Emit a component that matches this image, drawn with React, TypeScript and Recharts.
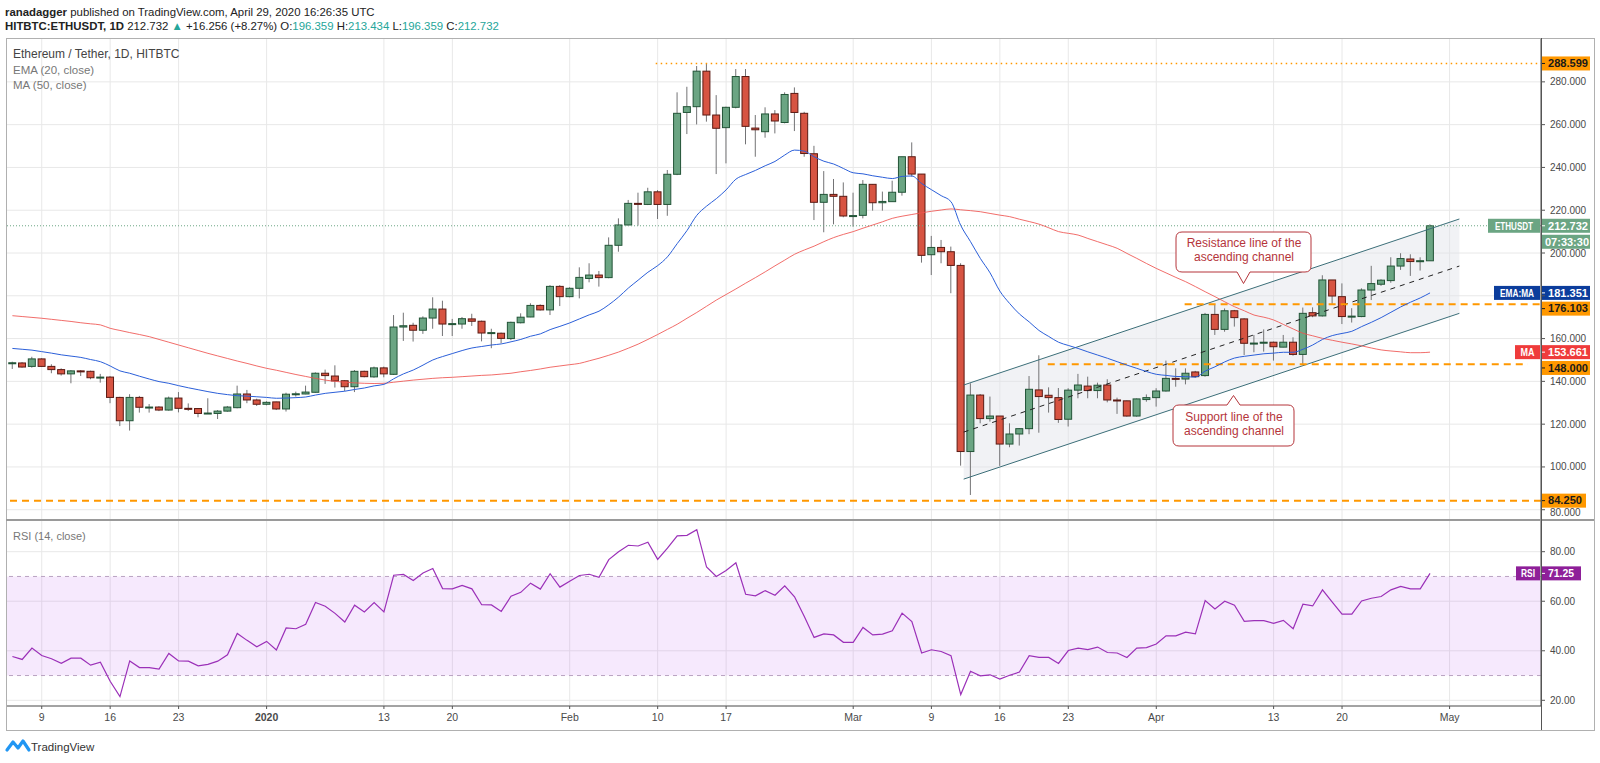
import React from 'react'
import { ComposedChart, Bar, Line, Area, XAxis, YAxis, CartesianGrid, ReferenceLine, ReferenceArea } from 'recharts'

// daily candles, 2019-12-06 .. 2020-04-29 (index 0 = Dec 6)
const open = [
  148.3, 148.6, 147.0, 150.5, 147.0, 145.5, 143.5, 144.9, 144.7, 141.7,
  142.0, 132.5, 121.6, 132.5, 127.9, 128.0, 126.6, 132.2, 127.4, 127.3,
  125.0, 125.0, 126.1, 127.7, 134.1, 131.3, 129.3, 130.4, 127.1, 134.0,
  134.1, 134.9, 143.8, 142.5, 140.3, 137.5, 144.7, 142.1, 146.3, 143.3,
  165.4, 166.2, 163.9, 169.6, 173.8, 166.8, 166.8, 169.2, 168.1, 162.6,
  162.5, 160.0, 167.4, 170.1, 175.5, 173.4, 184.4, 179.6, 183.5, 188.1,
  189.7, 188.5, 203.6, 213.1, 223.2, 222.7, 228.6, 222.7, 236.8, 265.7,
  268.4, 285.0, 264.5, 258.6, 268.1, 282.5, 258.4, 256.7, 265.0, 261.0,
  274.6, 265.3, 246.4, 223.7, 227.4, 226.5, 217.3, 217.6, 232.1, 223.5,
  224.0, 228.4, 245.0, 236.9, 199.2, 202.6, 200.6, 194.2, 107.2, 133.6,
  122.6, 123.8, 110.7, 115.4, 117.9, 136.0, 133.5, 132.4, 122.3, 135.9,
  137.8, 135.7, 138.3, 131.3, 130.9, 123.8, 131.5, 132.4, 135.5, 141.4,
  141.1, 144.4, 142.7, 171.3, 164.3, 173.0, 169.2, 157.8, 158.0, 158.3,
  156.0, 158.3, 152.6, 172.1, 170.6, 187.4, 179.6, 170.4, 170.3, 182.7,
  185.4, 187.1, 193.9, 197.2, 196.2, 196.359,
]
const high = [
  149.2, 149.0, 151.5, 150.8, 148.0, 146.1, 145.3, 145.3, 145.0, 143.5,
  142.5, 132.8, 134.0, 133.2, 129.4, 128.4, 132.9, 135.0, 129.7, 127.4,
  132.1, 126.6, 128.5, 138.0, 136.0, 131.9, 130.7, 130.5, 134.7, 135.2,
  138.0, 144.2, 145.5, 147.5, 140.6, 145.3, 145.0, 146.9, 146.9, 171.0,
  172.1, 167.4, 170.4, 179.3, 177.7, 169.2, 170.1, 171.6, 168.4, 164.6,
  162.8, 167.9, 171.8, 176.5, 176.0, 185.0, 185.0, 184.0, 193.3, 195.2,
  191.6, 207.3, 216.2, 224.8, 228.2, 230.5, 229.4, 238.8, 275.1, 277.7,
  287.4, 288.6, 273.8, 268.4, 286.0, 286.0, 264.5, 268.1, 266.8, 275.1,
  277.4, 266.0, 250.1, 238.3, 234.6, 233.0, 228.2, 234.1, 232.1, 228.7,
  233.8, 245.0, 251.7, 236.9, 208.0, 206.1, 203.0, 195.2, 139.1, 134.1,
  132.9, 123.8, 120.4, 118.2, 142.5, 152.2, 137.2, 136.9, 136.8, 143.5,
  142.2, 139.4, 141.0, 132.4, 131.0, 132.0, 133.9, 136.8, 149.7, 146.1,
  146.1, 144.9, 172.0, 175.7, 174.1, 173.4, 169.5, 161.7, 164.3, 158.6,
  161.7, 160.6, 174.5, 174.6, 189.6, 187.4, 185.8, 174.2, 183.5, 194.0,
  187.7, 198.0, 199.9, 199.4, 198.0, 213.434,
]
const low = [
  145.8, 146.4, 146.4, 146.9, 143.8, 142.7, 139.1, 142.5, 141.0, 139.4,
  129.8, 119.1, 117.0, 125.4, 125.4, 126.1, 126.3, 125.5, 126.2, 123.2,
  124.8, 122.4, 125.8, 127.4, 129.8, 128.5, 128.8, 126.6, 125.9, 132.9,
  134.0, 134.7, 138.8, 137.1, 135.5, 135.0, 141.9, 141.7, 141.9, 143.0,
  158.9, 158.6, 162.2, 164.6, 161.2, 161.2, 164.6, 165.9, 158.7, 155.5,
  157.8, 159.3, 167.1, 170.0, 173.1, 171.0, 175.2, 179.3, 178.8, 186.3,
  184.3, 188.2, 200.6, 212.8, 212.8, 222.4, 215.9, 217.4, 236.4, 255.6,
  260.1, 261.4, 236.9, 241.9, 267.6, 250.8, 245.0, 253.9, 255.9, 260.6,
  257.0, 245.0, 215.4, 209.7, 213.4, 216.7, 212.3, 216.2, 219.8, 219.8,
  224.0, 226.8, 235.7, 195.5, 189.7, 195.2, 181.2, 100.6, 86.9, 120.4,
  121.2, 100.5, 109.2, 110.0, 115.3, 116.0, 125.4, 120.6, 118.9, 132.1,
  132.1, 132.1, 130.2, 124.8, 123.5, 123.5, 130.5, 128.2, 135.2, 137.5,
  138.6, 141.7, 142.2, 161.7, 163.2, 165.6, 152.3, 153.6, 153.9, 149.7,
  155.9, 152.0, 148.1, 170.0, 170.3, 176.2, 166.8, 167.5, 170.0, 178.0,
  184.6, 186.1, 192.1, 189.3, 191.8, 196.359,
]
const close = [
  148.7, 146.7, 150.5, 147.0, 145.5, 143.5, 144.9, 144.7, 141.7, 142.0,
  132.5, 121.6, 132.5, 127.9, 128.0, 126.6, 132.2, 127.4, 127.3, 125.0,
  125.2, 126.1, 128.0, 134.1, 131.3, 129.3, 130.2, 127.1, 134.0, 134.2,
  135.0, 143.8, 142.7, 140.2, 137.5, 144.7, 142.2, 146.3, 143.5, 165.4,
  166.0, 163.9, 169.6, 173.8, 166.8, 167.0, 169.3, 168.1, 162.6, 162.8,
  160.1, 167.6, 170.0, 175.5, 173.4, 184.4, 179.6, 183.5, 188.6, 189.7,
  188.5, 203.6, 213.1, 223.2, 222.8, 228.6, 222.7, 236.8, 265.3, 268.4,
  285.0, 264.5, 258.3, 268.1, 282.5, 259.2, 257.6, 265.0, 261.7, 274.1,
  265.7, 246.5, 223.7, 227.4, 226.5, 217.3, 217.5, 232.1, 223.5, 224.1,
  228.4, 245.0, 236.9, 198.9, 202.6, 200.6, 194.2, 107.2, 133.6, 122.6,
  123.8, 110.7, 115.4, 117.9, 136.3, 132.9, 132.4, 122.2, 135.9, 138.3,
  135.7, 138.2, 131.3, 130.9, 123.8, 131.8, 132.4, 135.5, 141.4, 141.1,
  143.8, 142.2, 171.3, 164.3, 173.0, 169.8, 157.8, 157.9, 158.3, 156.2,
  158.3, 152.6, 171.8, 170.6, 187.4, 179.9, 170.3, 170.5, 182.7, 185.7,
  187.3, 193.9, 197.4, 196.0, 196.4, 212.732,
]
const ema20 = [
  155.4, 155.0, 154.6, 153.9, 153.2, 152.4, 151.8, 151.2, 150.2, 149.2,
  147.2, 144.9, 143.8, 142.4, 141.1, 139.9, 139.1, 138.0, 137.0, 136.1,
  135.2, 134.4, 133.8, 133.3, 133.1, 132.8, 132.5, 132.1, 132.2, 132.4,
  132.7, 133.6, 134.4, 134.9, 135.4, 136.2, 136.9, 137.9, 138.6, 141.2,
  143.5, 145.3, 147.6, 150.0, 151.6, 153.0, 154.4, 155.6, 156.3, 157.0,
  157.5, 158.5, 159.6, 161.1, 162.2, 164.2, 165.7, 167.3, 169.2, 171.1,
  172.8, 175.8, 179.4, 183.6, 187.3, 191.0, 194.1, 198.2, 204.4, 210.5,
  217.6, 221.9, 225.4, 229.5, 234.5, 236.7, 238.6, 240.8, 242.8, 245.8,
  248.1, 247.6, 245.0, 242.9, 241.6, 239.5, 237.5, 237.0, 236.1, 235.4,
  234.8, 235.8, 236.0, 232.5, 229.6, 226.8, 224.0, 212.9, 205.3, 197.5,
  190.7, 182.2, 176.4, 171.5, 167.8, 163.8, 161.0, 158.3, 156.8, 155.4,
  153.8, 152.3, 150.8, 149.2, 147.6, 146.1, 144.6, 143.3, 142.8, 142.3,
  142.2, 142.0, 144.8, 146.8, 149.1, 150.9, 151.7, 152.3, 152.9, 153.2,
  153.6, 153.6, 155.0, 157.0, 159.6, 161.4, 162.4, 163.4, 165.6, 167.6,
  169.8, 172.3, 174.8, 177.0, 179.0, 181.351,
]
const ma50 = [
  170.7, 170.3, 169.9, 169.5, 169.0, 168.5, 168.0, 167.4, 166.9, 166.4,
  164.8, 163.8, 162.8, 161.9, 160.9, 159.6, 158.3, 157.0, 155.7, 154.4,
  153.1, 151.9, 150.7, 149.5, 148.4, 147.2, 146.1, 145.2, 144.2, 143.2,
  142.3, 141.4, 140.6, 140.0, 139.6, 139.3, 139.1, 139.0, 139.1, 139.6,
  140.1, 140.6, 141.0, 141.4, 141.7, 141.9, 142.2, 142.5, 142.8, 143.0,
  143.4, 143.8, 144.5, 145.1, 145.8, 146.6, 147.2, 147.8, 148.4, 149.6,
  150.8, 152.2, 153.7, 155.5, 157.4, 159.6, 161.9, 164.3, 166.7, 169.5,
  172.2, 175.1, 178.0, 180.6, 183.2, 185.9, 188.5, 191.2, 194.0, 196.7,
  199.4, 201.4, 203.2, 205.3, 207.2, 208.7, 210.0, 211.6, 213.1, 214.6,
  216.2, 217.2, 218.0, 218.8, 219.5, 220.1, 220.6, 220.2, 219.8, 219.3,
  218.5, 217.7, 217.0, 215.8, 214.7, 213.5, 211.8, 210.0, 209.2, 208.4,
  206.8, 205.3, 203.8, 202.2, 199.8, 197.5, 195.1, 192.8, 190.7, 188.6,
  186.6, 184.3, 181.9, 179.6, 177.2, 174.9, 173.0, 171.0, 170.0, 168.7,
  166.6, 164.5, 162.5, 161.3, 160.1, 159.2, 158.3, 157.5, 156.6, 155.6,
  154.7, 154.2, 153.8, 153.4, 153.4, 153.661,
]
const rsi14 = [
  37.7, 36.5, 41.1, 38.1, 36.8, 34.9, 37.0, 37.0, 34.2, 35.4,
  27.7, 21.5, 35.9, 33.2, 33.2, 32.6, 38.9, 35.9, 35.8, 33.9,
  34.5, 35.8, 38.4, 47.0, 44.2, 41.6, 43.8, 40.3, 49.2, 48.9,
  50.7, 59.5, 58.0, 55.1, 51.6, 58.4, 55.7, 59.5, 55.7, 70.5,
  70.8, 68.4, 71.4, 73.2, 65.1, 65.0, 66.4, 65.0, 58.6, 58.5,
  55.9, 62.0, 63.6, 67.3, 64.9, 71.1, 65.7, 68.1, 70.4, 70.9,
  69.7, 76.8, 80.0, 82.6, 82.3, 83.8, 76.9, 81.4, 86.4, 86.6,
  88.9, 73.8, 70.0, 72.4, 75.5, 62.8, 62.2, 64.3, 62.4, 66.2,
  61.8, 53.8, 45.4, 46.8, 46.4, 43.4, 43.4, 49.4, 46.4, 46.7,
  48.1, 55.2, 51.8, 39.1, 40.4, 39.7, 38.0, 22.3, 31.7, 29.9,
  30.3, 28.6, 30.1, 31.4, 38.0, 37.3, 37.3, 34.9, 40.1, 41.1,
  40.5, 41.5, 39.3, 39.1, 37.3, 41.1, 41.3, 42.7, 46.0, 46.0,
  47.5, 46.8, 60.3, 56.9, 60.0, 58.4, 51.9, 52.2, 52.2, 51.1,
  52.3, 48.9, 58.8, 58.1, 64.6, 59.6, 54.8, 54.8, 60.1, 61.2,
  61.9, 64.6, 66.0, 65.0, 65.0, 71.25,
]

const tickIdx = [3, 10, 17, 26, 38, 45, 57, 66, 73, 86, 94, 101, 108, 117, 129, 136, 147]
const tickLabels = ['9', '16', '23', '2020', '13', '20', 'Feb', '10', '17', 'Mar', '9', '16', '23', 'Apr', '13', '20', 'May']
const priceTicks = [80, 100, 120, 140, 160, 180, 200, 220, 240, 260, 280]
const rsiTicks = [20, 40, 60, 80]

// ascending channel drawn on the chart (start / end anchors)
const channel = [
  { i: 97.3, lo: 94.3, mid: 116.3, hi: 138.3 },
  { i: 148, lo: 171.8, mid: 193.9, hi: 215.9 },
]

const data = open.map((o, i) => ({
  i,
  open: o,
  high: high[i],
  low: low[i],
  close: close[i],
  range: [low[i], high[i]],
  ema: ema20[i],
  ma: ma50[i],
  rsi: rsi14[i],
}))

const X_DOMAIN: [number, number] = [-0.655, 156.35]
const FONT = '"Liberation Sans", Arial, sans-serif'
const UP = '#6ba583'
const DOWN = '#d75442'
const ORANGE = '#ff9800'
const TEAL = '#26a69a'
const NOTE = '#b5353b'

const Candle = (props: any) => {
  const { x, y, width, height, payload } = props
  if (!payload || payload.open == null) return null
  const { open: o, close: c, high: h, low: l } = payload
  const top = Math.min(y, y + height)
  const hh = Math.abs(height)
  const span = h - l || 1
  const py = (v: number) => top + ((h - v) / span) * hh
  const cx = x + width / 2
  const up = c >= o
  const bTop = py(Math.max(o, c))
  const bH = Math.max(1, py(Math.min(o, c)) - bTop)
  return (
    <g>
      <line x1={cx} x2={cx} y1={py(h)} y2={py(l)} stroke="#737375" strokeWidth={1} />
      <rect
        x={cx - 3.5}
        y={bTop}
        width={7}
        height={bH}
        fill={up ? UP : DOWN}
        stroke={up ? '#225437' : '#5b1a13'}
        strokeWidth={1}
      />
    </g>
  )
}

const PriceTick = (props: any) => {
  const { x, y, payload, digits } = props
  if (payload.value === 180) return null
  // 80.000 sits just under the 84.250 tag
  const shift = digits === 3 && payload.value === 80 ? 3 : 0
  return (
    <text x={x + 3} y={y + shift} dy="0.35em" fill="#4a4a4a" fontSize={10} fontFamily={FONT}>
      {payload.value.toFixed(digits)}
    </text>
  )
}

const DateTick = (props: any) => {
  const { x, y, payload } = props
  const k = tickIdx.indexOf(payload.value)
  const label = tickLabels[k]
  return (
    <text x={x} y={y + 10} textAnchor="middle" fill="#4a4a4a" fontSize={10.5} fontFamily={FONT}
      fontWeight={label === '2020' ? 'bold' : 'normal'}>
      {label}
    </text>
  )
}

const tag = (text: string, bg: string, fg: string, opts: any = {}) => (p: any) => {
  const vb = p.viewBox
  if (!vb) return null
  const ax = vb.x + vb.width
  const cy = vb.y + (opts.dy || 0)
  const w = opts.w || 49
  return (
    <g fontFamily={FONT} fontSize={10.5} fontWeight="bold">
      {opts.name && (
        <g>
          <rect x={ax - opts.nameW} y={cy - 7} width={opts.nameW - 1} height={14} fill={bg} />
          <text x={ax - opts.nameW / 2 - 0.5} y={cy} dy="0.36em" textAnchor="middle" fill={fg}
            textLength={opts.nameLen} lengthAdjust="spacingAndGlyphs">{opts.name}</text>
        </g>
      )}
      <rect x={ax} y={cy - 7} width={w} height={14} fill={bg} />
      <line x1={ax} x2={ax + 4} y1={cy} y2={cy} stroke={fg} />
      <text x={ax + 7} y={cy} dy="0.36em" fill={fg} textLength={opts.len || 40} lengthAdjust="spacingAndGlyphs">{text}</text>
      {opts.sub && (
        <g>
          <rect x={ax} y={cy + 9} width={w} height={14} fill={bg} />
          <text x={ax + 4} y={cy + 16} dy="0.36em" fill={fg} textLength={44} lengthAdjust="spacingAndGlyphs">{opts.sub}</text>
        </g>
      )}
    </g>
  )
}

function PriceChart() {
  return (
    <ComposedChart width={1588} height={482} data={data} margin={{ top: 0, right: 0, bottom: 0, left: 0 }}>
      <CartesianGrid stroke="#e8e8e8" />
      <XAxis dataKey="i" type="number" domain={X_DOMAIN} ticks={tickIdx} allowDataOverflow hide />
      <YAxis
        orientation="right"
        width={53}
        type="number"
        domain={[75.2, 300.5]}
        ticks={priceTicks}
        allowDataOverflow
        axisLine={{ stroke: '#555' }}
        tickLine={{ stroke: '#555' }}
        tickSize={4}
        tick={<PriceTick digits={3} />}
      />
      <Area
        data={channel}
        dataKey={(d: any) => [d.lo, d.hi]}
        type="linear"
        stroke="none"
        fill="#dfe3e8"
        fillOpacity={0.45}
        isAnimationActive={false}
      />
      <Line data={channel} dataKey="hi" type="linear" stroke="#3b6e78" strokeWidth={1} dot={false} isAnimationActive={false} />
      <Line data={channel} dataKey="lo" type="linear" stroke="#3b6e78" strokeWidth={1} dot={false} isAnimationActive={false} />
      <Line data={channel} dataKey="mid" type="linear" stroke="#222" strokeDasharray="5 5" strokeWidth={1} dot={false} isAnimationActive={false} />
      <ReferenceLine y={212.732} stroke={UP} strokeDasharray="1 2" />
      <ReferenceLine segment={[{ x: 65.8, y: 288.599 }, { x: X_DOMAIN[1], y: 288.599 }]} stroke={ORANGE} strokeWidth={1.5} strokeDasharray="1.5 3.5" />
      <ReferenceLine segment={[{ x: 119.9, y: 176.103 }, { x: X_DOMAIN[1], y: 176.103 }]} stroke={ORANGE} strokeWidth={2} strokeDasharray="7 5" />
      <ReferenceLine segment={[{ x: 105.9, y: 148 }, { x: 155, y: 148 }]} stroke={ORANGE} strokeWidth={2} strokeDasharray="7 5" />
      <ReferenceLine y={84.25} stroke={ORANGE} strokeWidth={2} strokeDasharray="7 5" />
      <Line dataKey="ma" type="monotone" stroke="#ef5350" strokeOpacity={0.85} strokeWidth={1} dot={false} isAnimationActive={false} />
      <Line dataKey="ema" type="monotone" stroke="#2b5fd9" strokeWidth={1} dot={false} isAnimationActive={false} />
      <Bar dataKey="range" barSize={7} shape={Candle} isAnimationActive={false} />
      <ReferenceLine y={288.599} stroke="none" label={tag('288.599', ORANGE, '#1a1a1a')} />
      <ReferenceLine y={212.732} stroke="none" label={tag('212.732', UP, '#fff', { name: 'ETHUSDT', nameW: 53, nameLen: 38, sub: '07:33:30' })} />
      <ReferenceLine y={181.351} stroke="none" label={tag('181.351', '#0c3d9c', '#fff', { name: 'EMA:MA', nameW: 47, nameLen: 34 })} />
      <ReferenceLine y={176.103} stroke="none" label={tag('176.103', ORANGE, '#1a1a1a', { dy: 4.5 })} />
      <ReferenceLine y={153.661} stroke="none" label={tag('153.661', '#ef3b3b', '#fff', { name: 'MA', nameW: 26, nameLen: 14 })} />
      <ReferenceLine y={148} stroke="none" label={tag('148.000', ORANGE, '#1a1a1a', { dy: 3.7 })} />
      <ReferenceLine y={84.25} stroke="none" label={tag('84.250', ORANGE, '#1a1a1a', { w: 45, len: 34 })} />
    </ComposedChart>
  )
}

function RsiChart() {
  return (
    <ComposedChart width={1588} height={210} data={data} margin={{ top: 0, right: 0, bottom: 0, left: 0 }}>
      <CartesianGrid stroke="#e8e8e8" />
      <ReferenceArea y1={30} y2={70} fill="#b24cf0" fillOpacity={0.12} stroke="none" />
      <ReferenceLine y={70} stroke="#b9a3c2" strokeDasharray="4 4" />
      <ReferenceLine y={30} stroke="#b9a3c2" strokeDasharray="4 4" />
      <XAxis
        dataKey="i"
        type="number"
        domain={X_DOMAIN}
        ticks={tickIdx}
        interval={0}
        allowDataOverflow
        height={24}
        axisLine={{ stroke: '#555' }}
        tickLine={{ stroke: '#555' }}
        tickSize={3}
        tick={<DateTick />}
      />
      <YAxis
        orientation="right"
        width={53}
        type="number"
        domain={[17.7, 92.8]}
        ticks={rsiTicks}
        allowDataOverflow
        axisLine={{ stroke: '#555' }}
        tickLine={{ stroke: '#555' }}
        tickSize={4}
        tick={<PriceTick digits={2} />}
      />
      <Line dataKey="rsi" type="linear" stroke="#9b30b8" strokeWidth={1.2} dot={false} isAnimationActive={false} />
      <ReferenceLine y={71.25} stroke="none" label={tag('71.25', '#8e1f99', '#fff', { name: 'RSI', nameW: 25, nameLen: 14, w: 40, len: 26 })} />
    </ComposedChart>
  )
}

const txt = (left: number, top: number, extra: any = {}) => ({
  position: 'absolute' as const, left, top, fontFamily: FONT, fontSize: 12, lineHeight: '14px', whiteSpace: 'nowrap' as const, ...extra,
})

export default function App() {
  return (
    <div style={{ position: 'relative', width: 1600, height: 763, background: '#fff', overflow: 'hidden' }}>
      <style>{'body{margin:0}'}</style>
      <div style={txt(5, 5, { color: '#222', fontSize: 11.4 })}>
        <b>ranadagger</b> published on TradingView.com, April 29, 2020 16:26:35 UTC
      </div>
      <div style={txt(5, 19, { color: '#222', fontSize: 11.4 })}>
        <b>HITBTC:ETHUSDT, 1D</b> 212.732 <span style={{ color: TEAL }}>▲</span> +16.256 (+8.27%) O:<span style={{ color: TEAL }}>196.359</span> H:<span style={{ color: TEAL }}>213.434</span> L:<span style={{ color: TEAL }}>196.359</span> C:<span style={{ color: TEAL }}>212.732</span>
      </div>

      <div style={{ position: 'absolute', left: 6, top: 38 }}>
        <PriceChart />
      </div>
      <div style={{ position: 'absolute', left: 6, top: 520 }}>
        <RsiChart />
      </div>

      {/* frame */}
      <div style={{ position: 'absolute', left: 6, top: 38, width: 1587, height: 691, border: '1px solid #b0b0b0', boxSizing: 'content-box', pointerEvents: 'none' }} />
      <div style={{ position: 'absolute', left: 6, top: 519, width: 1588, height: 2, background: '#9a9a9a' }} />
      <div style={{ position: 'absolute', left: 1541, top: 38, width: 1, height: 692, background: '#555' }} />

      <div style={txt(13, 47, { color: '#444' })}>Ethereum / Tether, 1D, HITBTC</div>
      <div style={txt(13, 63, { color: '#777', fontSize: 11.5 })}>EMA (20, close)</div>
      <div style={txt(13, 78, { color: '#777', fontSize: 11.5 })}>MA (50, close)</div>
      <div style={txt(13, 529, { color: '#777', fontSize: 11 })}>RSI (14, close)</div>

      <svg width={1600} height={763} style={{ position: 'absolute', left: 0, top: 0, pointerEvents: 'none' }}>
        <path
          d="M1182,232 H1305 Q1311,232 1311,238 V266 Q1311,272 1305,272 H1250 L1243.5,283.5 L1237,272 H1182 Q1176,272 1176,266 V238 Q1176,232 1182,232 Z"
          fill="#fff" stroke={NOTE} strokeWidth={1}
        />
        <text x={1244} y={247} textAnchor="middle" fill={NOTE} fontSize={12} fontFamily={FONT}>Resistance line of the</text>
        <text x={1244} y={261} textAnchor="middle" fill={NOTE} fontSize={12} fontFamily={FONT}>ascending channel</text>
        <path
          d="M1179,405 H1227 L1233.5,395.5 L1240,405 H1288 Q1294,405 1294,411 V440 Q1294,446 1288,446 H1179 Q1173,446 1173,440 V411 Q1173,405 1179,405 Z"
          fill="#fff" stroke={NOTE} strokeWidth={1}
        />
        <text x={1234} y={421} textAnchor="middle" fill={NOTE} fontSize={12} fontFamily={FONT}>Support line of the</text>
        <text x={1234} y={435} textAnchor="middle" fill={NOTE} fontSize={12} fontFamily={FONT}>ascending channel</text>

        <g transform="translate(6,738)">
          <path d="M1,12 L7,4 L12,10 L17,3 L23,12" fill="none" stroke="#2196f3" strokeWidth={3.2} strokeLinejoin="round" strokeLinecap="round" />
        </g>
        <text x={31} y={751} fill="#333" fontSize={11.5} fontFamily={FONT}>TradingView</text>
      </svg>
    </div>
  )
}
